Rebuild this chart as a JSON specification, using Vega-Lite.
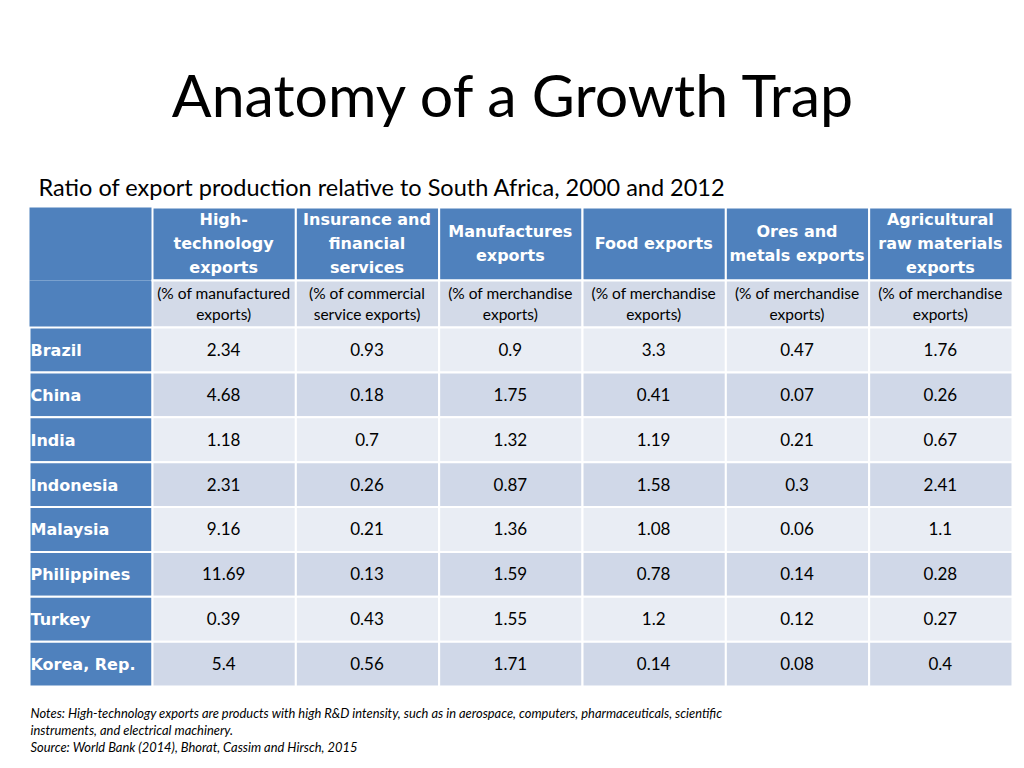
{
  "$schema": "https://vega.github.io/schema/vega-lite/v6.json",
  "width": 983,
  "height": 479,
  "padding": {"left": 29, "top": 207, "right": 12, "bottom": 82},
  "autosize": {"type": "none"},
  "background": "#ffffff",
  "config": {"view": {"stroke": null}},
  "title": {
    "text": "Anatomy of a Growth Trap",
    "anchor": "middle",
    "frame": "group",
    "font": "Lato",
    "fontSize": 59,
    "fontWeight": "normal",
    "color": "#000000",
    "offset": 47,
    "dx": -8
  },
  "datasets": {
    "corner": [{"c": 0, "r": 0}, {"c": 0, "r": 1}],
    "header": [
      {"c": 1, "r": 0, "label": "High-\ntechnology\nexports"},
      {"c": 2, "r": 0, "label": "Insurance and\nfinancial\nservices"},
      {"c": 3, "r": 0, "label": "Manufactures\nexports"},
      {"c": 4, "r": 0, "label": "Food exports"},
      {"c": 5, "r": 0, "label": "Ores and\nmetals exports"},
      {"c": 6, "r": 0, "label": "Agricultural\nraw materials\nexports"}
    ],
    "sub": [
      {"c": 1, "r": 1, "label": "(% of manufactured\nexports)"},
      {"c": 2, "r": 1, "label": "(% of commercial\nservice exports)"},
      {"c": 3, "r": 1, "label": "(% of merchandise\nexports)"},
      {"c": 4, "r": 1, "label": "(% of merchandise\nexports)"},
      {"c": 5, "r": 1, "label": "(% of merchandise\nexports)"},
      {"c": 6, "r": 1, "label": "(% of merchandise\nexports)"}
    ],
    "countries": [
      {"c": 0, "r": 2, "country": "Brazil"},
      {"c": 0, "r": 3, "country": "China"},
      {"c": 0, "r": 4, "country": "India"},
      {"c": 0, "r": 5, "country": "Indonesia"},
      {"c": 0, "r": 6, "country": "Malaysia"},
      {"c": 0, "r": 7, "country": "Philippines"},
      {"c": 0, "r": 8, "country": "Turkey"},
      {"c": 0, "r": 9, "country": "Korea, Rep."}
    ],
    "cells": [
      {"country": "Brazil", "r": 2, "c": 1, "value": 2.34},
      {"country": "Brazil", "r": 2, "c": 2, "value": 0.93},
      {"country": "Brazil", "r": 2, "c": 3, "value": 0.9},
      {"country": "Brazil", "r": 2, "c": 4, "value": 3.3},
      {"country": "Brazil", "r": 2, "c": 5, "value": 0.47},
      {"country": "Brazil", "r": 2, "c": 6, "value": 1.76},
      {"country": "China", "r": 3, "c": 1, "value": 4.68},
      {"country": "China", "r": 3, "c": 2, "value": 0.18},
      {"country": "China", "r": 3, "c": 3, "value": 1.75},
      {"country": "China", "r": 3, "c": 4, "value": 0.41},
      {"country": "China", "r": 3, "c": 5, "value": 0.07},
      {"country": "China", "r": 3, "c": 6, "value": 0.26},
      {"country": "India", "r": 4, "c": 1, "value": 1.18},
      {"country": "India", "r": 4, "c": 2, "value": 0.7},
      {"country": "India", "r": 4, "c": 3, "value": 1.32},
      {"country": "India", "r": 4, "c": 4, "value": 1.19},
      {"country": "India", "r": 4, "c": 5, "value": 0.21},
      {"country": "India", "r": 4, "c": 6, "value": 0.67},
      {"country": "Indonesia", "r": 5, "c": 1, "value": 2.31},
      {"country": "Indonesia", "r": 5, "c": 2, "value": 0.26},
      {"country": "Indonesia", "r": 5, "c": 3, "value": 0.87},
      {"country": "Indonesia", "r": 5, "c": 4, "value": 1.58},
      {"country": "Indonesia", "r": 5, "c": 5, "value": 0.3},
      {"country": "Indonesia", "r": 5, "c": 6, "value": 2.41},
      {"country": "Malaysia", "r": 6, "c": 1, "value": 9.16},
      {"country": "Malaysia", "r": 6, "c": 2, "value": 0.21},
      {"country": "Malaysia", "r": 6, "c": 3, "value": 1.36},
      {"country": "Malaysia", "r": 6, "c": 4, "value": 1.08},
      {"country": "Malaysia", "r": 6, "c": 5, "value": 0.06},
      {"country": "Malaysia", "r": 6, "c": 6, "value": 1.1},
      {"country": "Philippines", "r": 7, "c": 1, "value": 11.69},
      {"country": "Philippines", "r": 7, "c": 2, "value": 0.13},
      {"country": "Philippines", "r": 7, "c": 3, "value": 1.59},
      {"country": "Philippines", "r": 7, "c": 4, "value": 0.78},
      {"country": "Philippines", "r": 7, "c": 5, "value": 0.14},
      {"country": "Philippines", "r": 7, "c": 6, "value": 0.28},
      {"country": "Turkey", "r": 8, "c": 1, "value": 0.39},
      {"country": "Turkey", "r": 8, "c": 2, "value": 0.43},
      {"country": "Turkey", "r": 8, "c": 3, "value": 1.55},
      {"country": "Turkey", "r": 8, "c": 4, "value": 1.2},
      {"country": "Turkey", "r": 8, "c": 5, "value": 0.12},
      {"country": "Turkey", "r": 8, "c": 6, "value": 0.27},
      {"country": "Korea, Rep.", "r": 9, "c": 1, "value": 5.4},
      {"country": "Korea, Rep.", "r": 9, "c": 2, "value": 0.56},
      {"country": "Korea, Rep.", "r": 9, "c": 3, "value": 1.71},
      {"country": "Korea, Rep.", "r": 9, "c": 4, "value": 0.14},
      {"country": "Korea, Rep.", "r": 9, "c": 5, "value": 0.08},
      {"country": "Korea, Rep.", "r": 9, "c": 6, "value": 0.4}
    ]
  },
  "encoding": {
    "x": {
      "field": "c", "type": "quantitative",
      "bin": {"step": 1, "extent": [0, 7]},
      "scale": {"domain": [0, 1, 7], "range": [0, 123, 983], "zero": false, "nice": false},
      "axis": null
    },
    "y": {
      "field": "r", "type": "quantitative",
      "bin": {"step": 1, "extent": [0, 10]},
      "scale": {"domain": [0, 1, 2, 10], "range": [0, 73, 120, 479], "zero": false, "nice": false},
      "axis": null
    }
  },
  "layer": [
    {
      "data": {"name": "corner"},
      "mark": {"type": "rect", "fill": "#4F81BD", "binSpacing": 0}
    },
    {
      "data": {"name": "header"},
      "mark": {"type": "rect", "fill": "#4F81BD", "stroke": "#ffffff", "strokeWidth": 2, "binSpacing": 0}
    },
    {
      "data": {"name": "sub"},
      "mark": {"type": "rect", "fill": "#D3DAE8", "stroke": "#ffffff", "strokeWidth": 2, "binSpacing": 0}
    },
    {
      "data": {"name": "countries"},
      "mark": {"type": "rect", "fill": "#4F81BD", "stroke": "#ffffff", "strokeWidth": 2, "binSpacing": 0}
    },
    {
      "data": {"name": "cells"},
      "mark": {"type": "rect", "stroke": "#ffffff", "strokeWidth": 2, "binSpacing": 0},
      "encoding": {
        "x": {
          "field": "c", "type": "quantitative",
          "bin": {"step": 1, "extent": [0, 7]},
          "scale": {"domain": [0, 1, 7], "range": [0, 123, 983], "zero": false, "nice": false},
          "axis": {
            "orient": "top", "labels": false, "ticks": false, "domain": false, "grid": false,
            "title": "Ratio of export production relative to South Africa, 2000 and 2012",
            "titleAnchor": "start", "titleAlign": "left", "titleX": 9, "titleY": -12,
            "titleBaseline": "alphabetic", "titleFont": "Lato", "titleFontSize": 23.5,
            "titleFontWeight": "normal", "titleColor": "#000000"
          }
        },
        "fill": {
          "field": "r", "type": "ordinal",
          "scale": {"domain": [2, 3, 4, 5, 6, 7, 8, 9], "range": ["#E9EDF4", "#D0D8E8", "#E9EDF4", "#D0D8E8", "#E9EDF4", "#D0D8E8", "#E9EDF4", "#D0D8E8"]},
          "legend": null
        }
      }
    },
    {
      "data": {"name": "header"},
      "transform": [{"filter": {"field": "c", "oneOf": [1, 2, 6]}}],
      "mark": {"type": "text", "align": "center", "baseline": "middle", "lineBreak": "\n", "lineHeight": 24, "dy": -23.5, "font": "DejaVu Sans", "fontWeight": "bold", "fontSize": 16, "fill": "#ffffff"},
      "encoding": {"text": {"field": "label", "type": "nominal"}}
    },
    {
      "data": {"name": "header"},
      "transform": [{"filter": {"field": "c", "oneOf": [3, 5]}}],
      "mark": {"type": "text", "align": "center", "baseline": "middle", "lineBreak": "\n", "lineHeight": 24, "dy": -11.5, "font": "DejaVu Sans", "fontWeight": "bold", "fontSize": 16, "fill": "#ffffff"},
      "encoding": {"text": {"field": "label", "type": "nominal"}}
    },
    {
      "data": {"name": "header"},
      "transform": [{"filter": {"field": "c", "oneOf": [4]}}],
      "mark": {"type": "text", "align": "center", "baseline": "middle", "lineBreak": "\n", "lineHeight": 24, "dy": 0.5, "font": "DejaVu Sans", "fontWeight": "bold", "fontSize": 16, "fill": "#ffffff"},
      "encoding": {"text": {"field": "label", "type": "nominal"}}
    },
    {
      "data": {"name": "sub"},
      "mark": {"type": "text", "align": "center", "baseline": "middle", "lineBreak": "\n", "lineHeight": 21, "dy": -10, "font": "Lato", "fontSize": 15.5, "fill": "#000000"},
      "encoding": {"text": {"field": "label", "type": "nominal"}}
    },
    {
      "data": {"name": "countries"},
      "mark": {"type": "text", "align": "left", "baseline": "middle", "dx": -60, "dy": 1.5, "font": "DejaVu Sans", "fontWeight": "bold", "fontSize": 16, "fill": "#ffffff"},
      "encoding": {
        "x": {
          "field": "c", "type": "quantitative",
          "bin": {"step": 1, "extent": [0, 7]},
          "scale": {"domain": [0, 1, 7], "range": [0, 123, 983], "zero": false, "nice": false},
          "axis": {
            "orient": "bottom", "labels": false, "ticks": false, "domain": false, "grid": false,
            "title": ["Notes: High-technology exports are products with high R&D intensity, such as in aerospace, computers, pharmaceuticals, scientific", "instruments, and electrical machinery.", "Source: World Bank (2014), Bhorat, Cassim and Hirsch, 2015"],
            "titleAnchor": "start", "titleAlign": "left", "titleX": 1, "titleY": 31,
            "titleBaseline": "alphabetic", "titleFont": "Lato", "titleFontSize": 12.9,
            "titleFontStyle": "italic", "titleFontWeight": "normal", "titleLineHeight": 17,
            "titleColor": "#000000"
          }
        },
        "text": {"field": "country", "type": "nominal"}
      }
    },
    {
      "data": {"name": "cells"},
      "mark": {"type": "text", "align": "center", "baseline": "middle", "dy": 1.5, "font": "Lato", "fontSize": 17, "fill": "#000000"},
      "encoding": {"text": {"field": "value", "type": "quantitative", "format": "~g"}}
    }
  ],
  "resolve": {"axis": {"x": "independent"}}
}
